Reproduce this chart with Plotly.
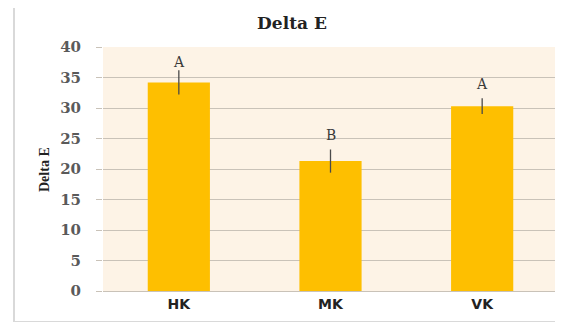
import plotly.graph_objects as go

# Datos
groups = ["HK", "MK", "VK"]
delta_e = [34.2, 21.3, 30.3]
err = [2.0, 1.9, 1.3]
letters = ["A", "B", "A"]
letter_pos = [37.6, 25.5, 34.0]

fig = go.Figure()

fig.add_trace(go.Bar(
    x=groups,
    y=delta_e,
    marker=dict(color="#FEBF00", line=dict(width=0)),
    error_y=dict(type="data", array=err, color="#4A4A4A", thickness=1.3, width=0),
    width=0.41,
    showlegend=False,
))

# Letras de significancia
for g, lab, yp in zip(groups, letters, letter_pos):
    fig.add_annotation(x=g, y=yp, text=lab, showarrow=False,
                       font=dict(family="DejaVu Serif", size=14, color="#3A3A3A"))

# Titulo del eje Y (como anotacion para controlar la posicion)
fig.add_annotation(xref="paper", yref="paper", x=-59 / 455, y=0.5, text="<b>Delta E</b>",
                   textangle=-90, showarrow=False, xanchor="center", yanchor="middle",
                   font=dict(family="Liberation Serif", size=14, color="#222222"))

fig.update_layout(
    width=563, height=322,
    margin=dict(l=95, r=13, t=39, b=39),
    paper_bgcolor="white",
    plot_bgcolor="#FDF3E6",
    title=dict(text="<b>Delta E</b>", x=284 / 563, xanchor="center", y=1 - 15 / 322, yanchor="middle",
               font=dict(family="DejaVu Serif", size=17, color="#222222")),
    bargap=0.59,
)

fig.update_yaxes(
    range=[0, 40], dtick=5,
    showgrid=True, gridcolor="#C9C2B8", gridwidth=1,
    zeroline=False,
    ticks="outside", ticklen=6, tickcolor="#C9C2B8",
    ticklabelstandoff=12,
    tickfont=dict(family="DejaVu Serif", size=15, color="#5A5A5A", weight="bold"),
)
fig.update_xaxes(
    showline=True, linecolor="#C9C2B8",
    tickfont=dict(family="DejaVu Sans", size=14, color="#222222"),
    tickprefix="<b>", ticksuffix="</b>",
)

# Marco exterior
fig.add_shape(type="rect", xref="paper", yref="paper",
              x0=-89 / 455, x1=1.06, y0=-31 / 244, y1=1 + 41 / 244,
              line=dict(color="#D9D9D9", width=2), layer="below")

fig.write_html("out.html")
